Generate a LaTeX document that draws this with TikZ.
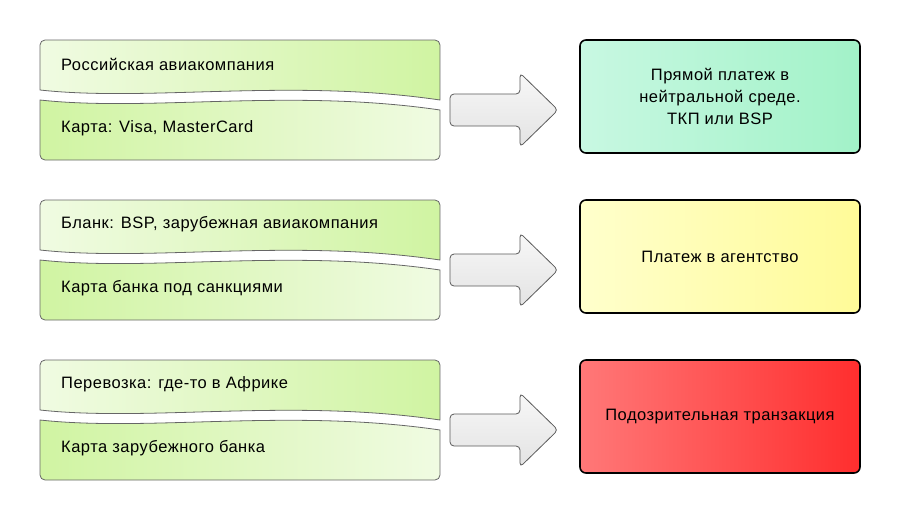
\documentclass[tikz,border=0pt]{standalone}
\usepackage{fontspec}
\setmainfont{Liberation Sans}[LetterSpace=3]
\tikzset{
  every node/.style={font=\fontsize{16.5}{22}\selectfont},
  lefttext/.style={anchor=west, inner sep=0pt},
  rbox/.style={draw=black, line width=1.6pt, rounded corners=6pt, minimum width=280pt, minimum height=113pt, align=center, inner sep=0pt},
  bigarrow/.style={draw=black!65, line width=0.8pt, rounded corners=4pt, top color=gray!6, bottom color=gray!22},
  uppart/.style={draw=black!60, line width=0.8pt, left color=grnA, right color=grnB},
  lowpart/.style={draw=black!60, line width=0.8pt, left color=grnB, right color=grnA},
}
\definecolor{mintL}{HTML}{C8F8E2}
\definecolor{mintR}{HTML}{A2F2C8}
\definecolor{yelL}{HTML}{FFFFCC}
\definecolor{yelR}{HTML}{FFFB98}
\definecolor{redL}{HTML}{FF7878}
\definecolor{redR}{HTML}{FF2E2E}
\definecolor{grnA}{HTML}{F0FBE2}
\definecolor{grnB}{HTML}{D0F4A2}
\begin{document}
\begin{tikzpicture}[x=1pt,y=-1pt]
\useasboundingbox (0,0) rectangle (900,520);
\foreach \dy in {0,160,320}{
  \begin{scope}[yshift=-\dy pt]
    % top part
    \draw[uppart]
      (40,65) [rounded corners=5pt] -- (40,40) -- (440,40) -- (440,65) [sharp corners] -- (440,100)
      .. controls (290,78) and (150,102) .. (40,90) -- cycle;
    % bottom part
    \draw[lowpart]
      (40,100) .. controls (150,112) and (290,88) .. (440,110) -- (440,135)
      [rounded corners=5pt] -- (440,160) -- (40,160) -- (40,135) [sharp corners] -- cycle;
    % arrow
    \draw[bigarrow] (450,94) -- (520,94) -- (520,73) -- (558,110) -- (520,147) -- (520,126) -- (450,126) -- cycle;
  \end{scope}
}
\node[lefttext] (a1) at (61,64) {Российская авиакомпания};
\node[lefttext] (b1) at (61,128) {Карта: Visa, MasterCard};
\node[lefttext] (a2) at (61,224) {Бланк: BSP, зарубежная авиакомпания};
\node[lefttext] (b2) at (61,288) {Карта банка под санкциями};
\node[lefttext] (a3) at (61,384) {Перевозка: где-то в Африке};
\node[lefttext] (b3) at (61,448) {Карта зарубежного банка};

\node[rbox, left color=mintL, right color=mintR] (r1) at (720,96.5) {Прямой платеж в\\нейтральной среде.\\ТКП или BSP};
\node[rbox, left color=yelL, right color=yelR] (r2) at (720,256.5) {Платеж в агентство};
\node[rbox, left color=redL, right color=redR] (r3) at (720,416.5) {Подозрительная транзакция};
\end{tikzpicture}
\end{document}
